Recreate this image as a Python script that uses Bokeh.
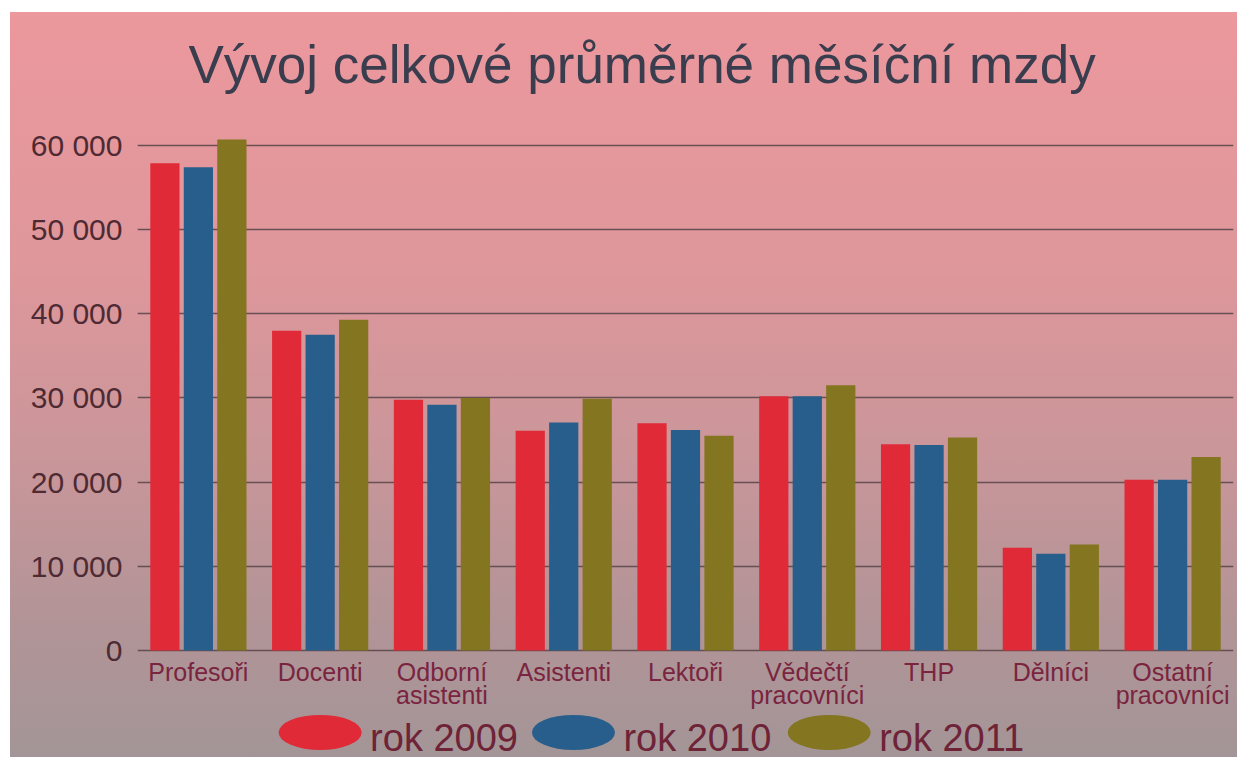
from bokeh.plotting import figure
from bokeh.models import FactorRange, Range1d, FixedTicker
from bokeh.transform import dodge
from bokeh.core.properties import value
from bokeh.embed import file_html
from bokeh.resources import INLINE

# ---------------- data ----------------
title_text = "Vývoj celkové průměrné měsíční mzdy"
categories = ["Profesoři", "Docenti", "Odborní\nasistenti", "Asistenti", "Lektoři",
              "Vědečtí\npracovníci", "THP", "Dělníci", "Ostatní\npracovníci"]
series_names = ["rok 2009", "rok 2010", "rok 2011"]
rok_2009 = [57900, 38000, 29800, 26100, 27000, 30200, 24500, 12200, 20300]
rok_2010 = [57400, 37500, 29200, 27100, 26200, 30200, 24400, 11500, 20300]
rok_2011 = [60700, 39300, 30000, 29900, 25500, 31500, 25300, 12600, 23000]
y_ticks = [0, 10000, 20000, 30000, 40000, 50000, 60000]
y_tick_labels = ["0", "10 000", "20 000", "30 000", "40 000", "50 000", "60 000"]

# ---------------- style ----------------
bar_colors = ["#E02A37", "#285E8B", "#847520"]
font = "Liberation Sans"
text_dark = "#4E2A33"
label_color = "#7A2440"
legend_color = "#6E2337"

p = figure(
    x_range=FactorRange(*categories),
    y_range=Range1d(-13306, 64393),
    width=1227, height=750,
    output_backend="svg", toolbar_location=None,
    x_axis_location=None,
    min_border_left=127, min_border_right=4,
    min_border_top=96, min_border_bottom=0,
    title=title_text,
)
p.styles = {
    "margin-left": "10px",
    "margin-top": "12px",
    "background": "linear-gradient(to bottom, #EC989D 0px, #DE979B 260px, #C9969A 447px, #B29497 610px, #A39597 745px, #ffffff 745px, #ffffff 750px)",
}
p.background_fill_color = None
p.border_fill_color = None
p.outline_line_color = None

p.title.text_font = font
p.title.text_font_size = "53px"
p.title.text_font_style = "normal"
p.title.text_color = "#3A3D4E"
p.title.align = "left"
p.title.offset = 51
p.title.standoff = 30

# y axis
p.yaxis.ticker = FixedTicker(ticks=y_ticks)
p.yaxis.major_label_overrides = {t: l for t, l in zip(y_ticks, y_tick_labels)}
p.yaxis.axis_line_color = None
p.yaxis.major_tick_line_color = None
p.yaxis.minor_tick_line_color = None
p.yaxis.major_tick_out = 0
p.yaxis.major_label_standoff = 15
p.yaxis.major_label_text_font = font
p.yaxis.major_label_text_font_size = "30px"
p.yaxis.major_label_text_color = text_dark

p.xgrid.grid_line_color = None
p.ygrid.ticker = FixedTicker(ticks=y_ticks)
p.ygrid.grid_line_color = "#5C474B"
p.ygrid.grid_line_width = 1.5
p.ygrid.grid_line_alpha = 0.9

# bars
series = [rok_2009, rok_2010, rok_2011]
offsets = [-0.275, 0.0, 0.275]
for vals, off, col in zip(series, offsets, bar_colors):
    p.vbar(x=dodge("x", off, range=p.x_range), top="top", width=0.24,
           source=dict(x=categories, top=vals),
           fill_color=col, line_color=None)

# category labels (in plot area, below zero line)
label_y = -950
p.text(x=categories, y=[label_y] * len(categories), text=categories,
       text_align="center", text_baseline="top",
       text_font=value(font), text_font_size="25px", text_color=label_color,
       text_line_height=0.82)

# legend (drawn manually to get oval swatches)
legend_x = [1.50, 3.58, 5.68]
legend_y = -9740
legend_text_y = -10450
for name, col, lx in zip(series_names, bar_colors, legend_x):
    p.ellipse(x=[lx], y=[legend_y], width=83, height=35,
              width_units="screen", height_units="screen",
              fill_color=col, line_color=None)
    p.text(x=[lx + 0.41], y=[legend_text_y], text=[name],
           text_align="left", text_baseline="middle",
           text_font=value(font), text_font_size="38px", text_color=legend_color)

open("out.html", "w").write(file_html(p, INLINE))
